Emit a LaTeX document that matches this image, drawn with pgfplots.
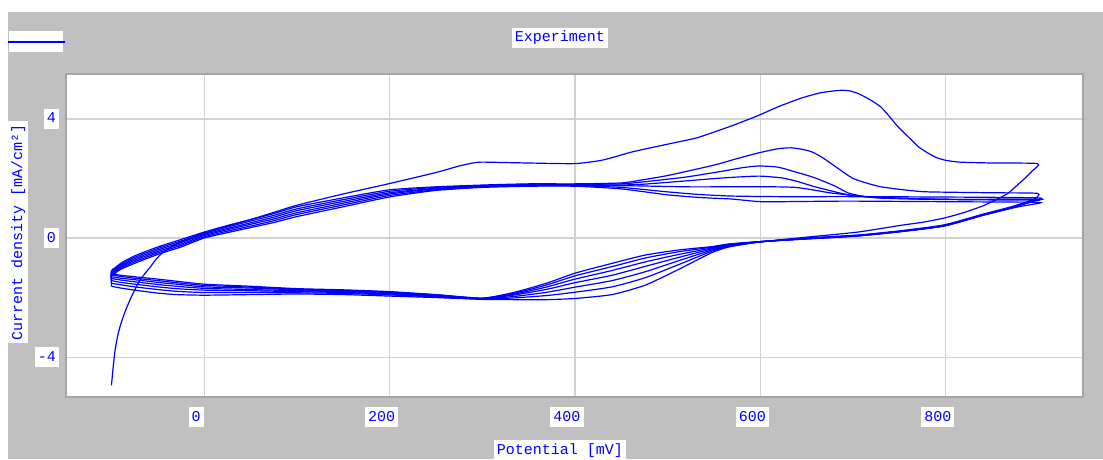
\documentclass[border=0pt]{standalone}
\usepackage{fontspec}
\setmainfont{Liberation Mono}
\usepackage{pgfplots}
\pgfplotsset{compat=1.18}
\definecolor{panel}{RGB}{192,192,192}
\definecolor{gridc}{RGB}{210,210,210}
\definecolor{framec}{RGB}{165,165,165}
\definecolor{cvblue}{RGB}{0,0,255}
\newcommand{\lblfont}{\fontsize{15}{17}\selectfont}

\begin{document}
\begin{tikzpicture}[x=1pt,y=1pt,
    lbl/.style={fill=white,text=cvblue,inner sep=3pt,text height=11pt,text depth=3pt,font=\lblfont},
    cv/.style={cvblue,line width=1.2pt,mark=none,smooth,tension=0.35}]
  \useasboundingbox (0,0) rectangle (1103,459);
  \fill[white] (0,0) rectangle (1103,459);
  \fill[panel] (8,0) rectangle (1103,447);
  % legend swatch
  \fill[white] (9,407) rectangle (63,428);
  \draw[cvblue,line width=1.5pt] (8,417) -- (65,417);
  \node[lbl] at (560,421) {Experiment};

  \begin{axis}[at={(66pt,62pt)},anchor=south west,
      scale only axis,width=1017pt,height=323pt,
      xmin=-149,xmax=948,ymin=-5.34,ymax=5.51,
      axis background/.style={fill=white},
      axis line style={framec,line width=1.5pt},
      grid=major,major grid style={gridc,line width=1.2pt},
      xtick={0,200,400,600,800},xticklabels={0,200,400,600,800},
      ytick={-4,0,4},yticklabels={-4,0,4},
      major tick length=0pt,
      ticklabel style={lbl},
      xticklabel style={yshift=-10pt,xshift=-8pt},
      yticklabel style={xshift=-7pt},
    ]
    % cycle 1 (first scan starts at -100 mV)
    \addplot[cv] coordinates {(-100,-4.95) (-98,-4.3) (-96,-3.75) (-93,-3.25) (-90,-2.9) (-85,-2.45) (-80,-2.08) (-75,-1.75) (-70,-1.45) (-64,-1.2) (-58,-0.97) (-52,-0.72) (-45,-0.5) (-30,-0.2) (-15,0.0) (0,0.16) (25,0.4) (50,0.62) (75,0.86) (100,1.1) (150,1.48) (200,1.83) (250,2.2) (275,2.42) (290,2.52) (300,2.55) (350,2.52) (400,2.5) (430,2.62) (460,2.88) (480,3.02) (510,3.22) (533,3.38) (570,3.78) (598,4.12) (620,4.42) (644,4.7) (665,4.88) (685,4.96) (695,4.95) (705,4.86) (718,4.65) (730,4.4) (740,4.05) (748,3.75) (762,3.32) (771,3.05) (781,2.85) (790,2.7) (800,2.61) (815,2.55) (850,2.52) (899,2.5)
      (893,2.25) (885,2.0) (875,1.72) (867,1.5) (855,1.3) (840,1.08) (820,0.86) (798,0.67) (775,0.53) (750,0.42) (705,0.2) (650,0.03) (600,-0.13) (566,-0.3) (547,-0.50) (512,-1.05) (476,-1.58) (440,-1.90) (400,-2.03) (370,-2.07) (335,-2.07) (300,-2.06) (250,-2.0) (200,-1.95) (150,-1.9) (100,-1.88) (50,-1.9) (0,-1.92) (-30,-1.9) (-50,-1.85) (-75,-1.75) (-90,-1.68) (-100,-1.62)};
    % cycle 2
    \addplot[cv] coordinates {(-100,-1.62) (-100,-1.10) (-96,-1.0) (-90,-0.85) (-75,-0.60) (-50,-0.30) (-25,-0.05) (0,0.20) (25,0.42) (50,0.62) (75,0.82) (100,1.05) (150,1.35) (200,1.62) (250,1.72) (300,1.78) (350,1.82) (400,1.82) (450,1.85) (472,1.95) (500,2.1) (550,2.45) (575,2.67) (598,2.86) (619,3.0) (633,3.03) (645,2.98) (655,2.9) (666,2.72) (680,2.42) (691,2.18) (700,2.0) (713,1.86) (730,1.72) (760,1.6) (781,1.55) (850,1.52) (899,1.5)
      (895,1.3) (880,1.14) (867,1.02) (840,0.8) (798,0.44) (750,0.24) (705,0.1) (650,0.0) (600,-0.13) (566,-0.28) (547,-0.45) (512,-0.89) (476,-1.33) (440,-1.64) (400,-1.82) (370,-1.93) (335,-2.01) (300,-2.05) (250,-1.98) (200,-1.91) (150,-1.86) (100,-1.84) (50,-1.83) (0,-1.83) (-30,-1.79) (-50,-1.73) (-75,-1.64) (-90,-1.57) (-100,-1.52)};
    % cycle 3
    \addplot[cv] coordinates {(-100,-1.52) (-100,-1.14) (-96,-1.04) (-90,-0.89) (-75,-0.65) (-50,-0.35) (-25,-0.10) (0,0.16) (25,0.37) (50,0.57) (75,0.76) (100,0.98) (150,1.29) (200,1.57) (250,1.70) (300,1.76) (350,1.80) (400,1.80) (450,1.82) (472,1.88) (520,2.05) (560,2.25) (580,2.36) (598,2.42) (619,2.38) (640,2.2) (659,2.02) (680,1.75) (695,1.51) (713,1.39) (730,1.34) (780,1.3) (850,1.28) (899,1.28)
      (895,1.27) (880,1.12) (867,1.0) (840,0.79) (798,0.43) (750,0.23) (705,0.09) (650,-0.01) (600,-0.13) (566,-0.26) (547,-0.41) (512,-0.76) (476,-1.13) (440,-1.43) (400,-1.65) (370,-1.82) (335,-1.96) (300,-2.04) (250,-1.96) (200,-1.88) (150,-1.83) (100,-1.80) (50,-1.77) (0,-1.75) (-30,-1.70) (-50,-1.64) (-75,-1.55) (-90,-1.49) (-100,-1.43)};
    % cycle 4
    \addplot[cv] coordinates {(-100,-1.43) (-100,-1.18) (-96,-1.08) (-90,-0.93) (-75,-0.70) (-50,-0.40) (-25,-0.15) (0,0.12) (25,0.32) (50,0.51) (75,0.70) (100,0.92) (150,1.23) (200,1.52) (250,1.67) (300,1.75) (350,1.79) (400,1.79) (440,1.78) (470,1.8) (520,1.92) (560,2.02) (598,2.08) (623,2.02) (640,1.9) (659,1.72) (695,1.45) (730,1.35) (800,1.3) (899,1.3)
      (895,1.26) (880,1.12) (867,0.99) (840,0.78) (798,0.42) (750,0.22) (705,0.08) (650,-0.02) (600,-0.12) (566,-0.24) (547,-0.37) (512,-0.65) (476,-0.95) (440,-1.25) (400,-1.50) (370,-1.72) (335,-1.91) (300,-2.04) (250,-1.94) (200,-1.86) (150,-1.80) (100,-1.77) (50,-1.73) (0,-1.69) (-30,-1.62) (-50,-1.56) (-75,-1.47) (-90,-1.41) (-100,-1.36)};
    % cycle 5
    \addplot[cv] coordinates {(-100,-1.36) (-100,-1.22) (-96,-1.12) (-90,-0.97) (-75,-0.75) (-50,-0.45) (-25,-0.20) (0,0.08) (25,0.28) (50,0.46) (75,0.64) (100,0.85) (150,1.17) (200,1.48) (250,1.65) (300,1.73) (350,1.77) (400,1.77) (440,1.76) (470,1.75) (520,1.72) (560,1.72) (587,1.72) (615,1.72) (638,1.7) (660,1.6) (677,1.51) (720,1.38) (800,1.3) (899,1.3)
      (895,1.25) (880,1.11) (867,0.99) (840,0.77) (798,0.41) (750,0.22) (705,0.08) (650,-0.02) (600,-0.12) (566,-0.22) (547,-0.34) (512,-0.55) (476,-0.80) (440,-1.09) (400,-1.38) (370,-1.64) (335,-1.88) (300,-2.03) (250,-1.92) (200,-1.83) (150,-1.78) (100,-1.74) (50,-1.68) (0,-1.64) (-30,-1.55) (-50,-1.49) (-75,-1.40) (-90,-1.35) (-100,-1.30)};
    % cycle 6
    \addplot[cv] coordinates {(-100,-1.30) (-100,-1.26) (-96,-1.16) (-90,-1.01) (-75,-0.80) (-50,-0.50) (-25,-0.25) (0,0.04) (25,0.23) (50,0.40) (75,0.58) (100,0.79) (150,1.11) (200,1.43) (250,1.62) (300,1.72) (350,1.76) (400,1.76) (450,1.70) (500,1.55) (535,1.46) (569,1.41) (620,1.39) (695,1.39) (781,1.38) (899,1.35)
      (895,1.24) (880,1.1) (867,0.98) (840,0.77) (798,0.41) (750,0.21) (705,0.07) (650,-0.03) (600,-0.12) (566,-0.21) (547,-0.31) (512,-0.46) (476,-0.67) (440,-0.96) (400,-1.27) (370,-1.57) (335,-1.85) (300,-2.02) (250,-1.91) (200,-1.82) (150,-1.76) (100,-1.72) (50,-1.65) (0,-1.59) (-30,-1.50) (-50,-1.43) (-75,-1.35) (-90,-1.29) (-100,-1.24)};
    % cycle 7
    \addplot[cv] coordinates {(-100,-1.24) (-96,-1.18) (-90,-1.05) (-75,-0.85) (-50,-0.55) (-25,-0.30) (0,0.00) (25,0.18) (50,0.35) (75,0.52) (100,0.72) (150,1.05) (200,1.38) (250,1.60) (300,1.70) (350,1.74) (400,1.74) (450,1.65) (500,1.45) (535,1.36) (569,1.31) (601,1.22) (650,1.23) (698,1.24) (800,1.22) (899,1.2)
      (895,1.14) (880,1.06) (867,0.97) (840,0.76) (798,0.40) (750,0.21) (705,0.07) (650,-0.03) (600,-0.12) (566,-0.2) (547,-0.29) (512,-0.40) (476,-0.57) (440,-0.85) (400,-1.18) (370,-1.51) (335,-1.82) (300,-2.02) (250,-1.90) (200,-1.80) (150,-1.74) (100,-1.70) (50,-1.62) (0,-1.55) (-30,-1.45) (-50,-1.38) (-75,-1.30) (-90,-1.25) (-100,-1.2)};
  \end{axis}

  \node[lbl,anchor=north] at (560,19) {Potential [mV]};
  \node[lbl,rotate=90] at (18,227) {Current density [mA/cm²]};
\end{tikzpicture}
\end{document}
